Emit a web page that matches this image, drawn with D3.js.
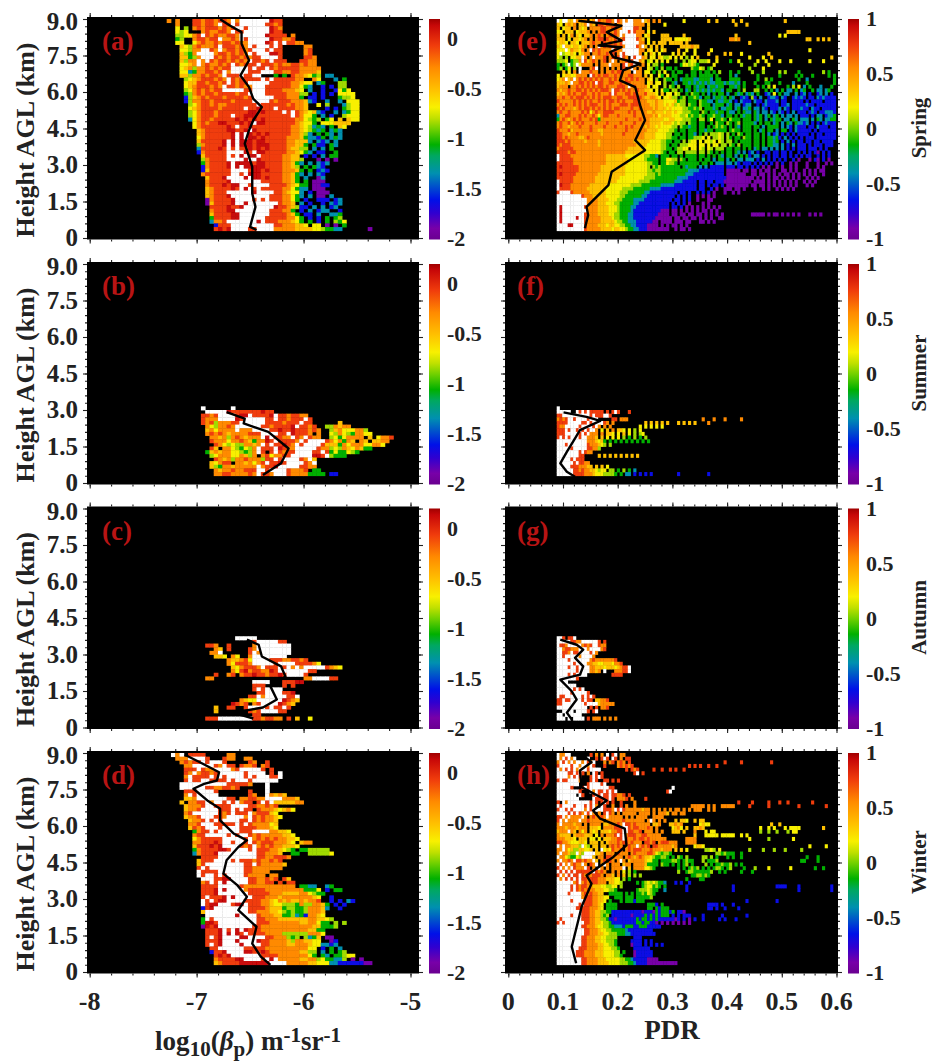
<!DOCTYPE html>
<html>
<head>
<meta charset="utf-8">
<script src="https://cdnjs.cloudflare.com/ajax/libs/d3/7.8.5/d3.min.js"></script>
<style>
  body { margin: 0; background: #fff; }
  text { font-family: "Liberation Serif", serif; font-weight: bold; fill: #222; }
</style>
</head>
<body>
<div id="chart"></div>
<script>
// every row string is one height bin, top row first
// . = no data (black), w = white bin, 0-9 = colour level (purple .. dark red)
// spaces only mark blocks of ten bins so the long rows can be counted
var levelFractions = [0.05, 0.17, 0.3, 0.43, 0.53, 0.6, 0.68, 0.78, 0.88, 0.97];

var rowsA = [
"7.7...887887887w7wwwwwww988",
"..7...887887w88w8wwwwww8878",
"..5.4.7878887878ww8wwwww987",
"..545...7877887w88wwwwww988",
"..445578w87877887wwwwww98888.7",
"..34..788788w7787w8wwwww988778",
"..55..5787787887877wwww98w8w8877",
"...654787778w888787w8www8w8.....77",
"...55477ww87w7887878www8w88.....78",
"...6437wwww78878787w8www998.....78",
"...66347www87878878788wwww8.....887",
"...6477w7w878878787w8878w888...8877",
"...5567w7877878w87888w8887877887877",
"...567477878788wwww8w88w878888877777",
"...5523778878w7wwww888www88778877776",
"...6647787887w888w88ww...3.3.8776534.22.",
"....4567888787w8788888w8w8888877..75...2.3",
"....5668878878w8788wwwww8888877655.23...44",
"....567888787w887877www88888877532..1.1.44.",
"....457878788wwwww88www888877765.2..1..1535",
"....347878878888788wwww8888877744.1.1.1.5555",
"....1467878887888878wwwww8887773.11.1...3445",
"....1477887888878888wwww87888777621..2..2.555",
".....4578878778888888w88888878776..5.4...2455",
".....5678888788888w889888w8888776....1.1.3455",
".....4578887888888899898888w8w8765621..2.2355",
".....4578887888w8899988888888w87553.2.1..4555",
".....2578878888898989898888888775434.35.6.655",
"......57878899888989w99888888876553.5556666",
"......5788888898w88988888888877654232.3.65",
".......678888899889w98888888877654323.232",
".......678888889w9w989898888877642.3.32.2",
".......578888889w9w998988888777632213.232",
".......6888889w9w99989988888776662.212.2",
".......4788889w9w9998999888877663.311.32",
".......2888898w8w8898989888876644.2.2.3",
".......1788888wwww98w9988888776532.11..3",
"........688888w8w9w99w888887766.1.1.2.33.",
"........478888wwww9ww98888877664...0.0.0.",
"........3788889w9999899888877632.2.212",
"........1788889w9w9999988887764.3.321..",
"........1688888wwww8998988877763.3.121.",
"........7888888ww8w9998888877632.2.21..",
".........68889wwww9w99898887763.2..02.",
".........788889wwwwwww888887763.3.000.",
".........78889899ww8wwww888876533.0011.",
".........67888898w9w8w88888775322.000..",
".........67888wwwwww9wwww8876552.1.000.",
".........678889wwwwwwwww88877532.2.00.2.",
".........0788889wwww8w8w8887753.1..111.12",
".........0688889ww9wwwwwww8776.2.1..1.212",
"..........88889889wwwwwww98876411.2.2.12.",
"..........788899wwwwwwww888773.1.2.122..1",
"..........6888899wwwwwww8888763.11.2..223",
"..........3888899wwwwww888887753.1.1.3.34",
"..........2778wwwwwww9w888777653.3.1.3.435",
"...........1888wwwwwwwwww88777665.55.0.0.3",
"...........8989wwww88wwww7777766665543322......0"
];

var rowsB = [
"........w......w",
".........wwwww98888888988",
"........8878wwww899w88889w8878877",
"........8777wwww98wwwww88w887888w8",
"........878477788wwwwww88887888w88......6",
".........7547787wwwwww88788889w8878..447677",
".........6757777w777wwww889889888787..467555774",
".........7878767777888wwww88w98887.7..5475437755",
"..........776747876777w9w8877w87w877..45357777.6.5778",
"..........877757787637798w88887w8wwww8757376.76.6677",
"...........87545447767w8w88987w8wwww866637577755775",
"..........86.77543547w888w9877wwwww8774547657633",
".........367677554347w8.8w8788wwww88w83533543",
"..........45777557647.7857788wwwww998w4333",
"...........87674778777488w8wwww87w6",
"..........65788.7767578w8898wwww87w",
"..........64377677777w7889wwwww8877",
"...........7677877888ww8wwww87778.33",
"...........7788777787w887www877773333.11"
];

var rowsC = [
"................wwwww",
"....................8wwwww88",
".........887..8.....7wwwwwwww",
"...........76.8....87wwwwwwww",
"..........77w......8w7wwwwwww",
"...........665.75..7wwwwwwww",
"..............766785wwww888778878",
"..............758887wwwww8wwww888875",
"...............6578887w888w8w7w7wwwww8765",
"...............75897887798wwwwwww88",
"...........8..78.78898878898wwww8",
".........77.....................77wwww88",
"....................wwww...88899",
"....................888....8.8",
"....................8w8wwww",
".....................88wwww889",
"...................88w7wwwww88w",
".................7655wwwwww9876",
"...............9878.78wwww9876",
"...........6..88..8wwww8w88w8",
"...........6.......878wwww88",
"....................88",
".........888wwwwwwww8878877.8.6..5"
];

var rowsD = [
".w7w.8888.....77",
"..777wwww8...877..77",
"...78788w8www8.....87..8",
"....77wwwww87w88.8778.78",
"....888w877wwww78wwwww8.8",
"....87w78878wwwwww8wwww.8.w",
"....7w8888w8w8wwww8w8www88w",
"....8w88ww8888w8www8wwwwww",
"...wwwwwwwwwww888887...w",
"...wwwwww88778878......w",
"....888wwww8.......8...w..",
"....7w8wwwww.......87..w7676",
"....667wwwwwww88.778877wwww7776",
"...6.7788w7ww8w8w788.8w8w6666677",
"....67778ww8888wwww8877878.......",
"....6778wwww888w8w88.877765675",
"....78wwwwww878w888w788865",
"....6778www887wwww7w8787765",
".....6778w8w8wwww88w878776",
".....778www88888w8w8777756",
".....6878www8wwww888877765",
"......3788w8wwwww888wwww77665",
"......788wwwww8w8ww87877777665",
"......5788888wwwww8w78787877665",
"......7788898ww8ww8w8788877765.677",
"......6888989wwww878w7878776665",
"......378888998wwww8w888776543.3344444",
"......278889wwwwwwwww887776..33..444445",
"........8888wwwwwwwww88778887",
".......6888wwww8w8887877878.",
".......68wwwwwwwww88w8777776",
".......8w8wwwwwwww887777777",
".......w8888wwwwww887777......",
".......w8ww8w8wwww87777.77",
"........www8899wwww8877878.86",
"........78w8w9wwwww887788.8.88",
"........8888wwwww8777777777777.3322..23",
"........8889w9wwww788887777777773335.1.33",
"........8889wwwwwww888887776666775433",
"........8w8889w9wwww8887776777777765..1.",
"........w8w899wwww888877657676676778..1.1.21",
"........w899www899w8887765544437447763.1.1",
"........189wwwwwwww8888766634433477762..1.",
"........6wwwwwwwwww887776654343347776",
".........wwwwwww9wwww8777663342317765",
"........3w8wwwwwwwwww887776666666776654",
"........3998wwwwwwwww88877777776677533.4.4",
"........0989wwwwwwww88777777777777663334",
".........8889w8w9w9888777777777776633",
".........8889w9w98w888877774444447775..",
".........8w89wwww99wwww88777434.4236.00..",
".........8889www9wwww988777764776655..01...",
".........8w89wwww9wwww887777667776552212.",
"..........88wwwwww88888777777777755.1.3.2",
"..........1889wwww99889877777776644.2.3.34.",
"...........8989wwwwwww8888777777753.32.33455",
"...........7888899wwww8w9w7777766774533224.0.0",
"...........6788889999999wwww77777665552211111100"
];

var rowsE = [
"w5ww66w767 7.67w87788 7w87w7ww77 7w67.7.7.. ......5... .....6..6. ....6..6.. .......... ...6......",
"65.6767.66 7w76.88788 7.77wwww77 77.6.....5 .......... .......... .....6...6",
"6.566.7.65 6.77778877 8877wwww88 7..6......",
"55.666.566 67.7.78877 787www8w87 77.5.6.... .......... .......... .......... .......... ....66666.",
"6.6.57.65. 667.787.78 887w7wwww7 7.56....66 6.....6... .......... .....6.... .......... .5.5......",
"666.5.6656 7.7.788.87 78w78wwww8 76.5....66 66.555556. .......... ...7767... .......... .......... .66..6.6.6",
"5665.665.6 667877.878 7878wwwwww 77.5.6.666 .66666.6.. .......... .......... 6.........",
"65w6656656 7.7.7w7878 88787wwww8 7w6.6.6.6. .....66667 66........",
"555w576657 .7w8787777 w877wwwwww 77.65.6.56 ....6..5.. 5.....5... .......... .......... .......... ..5.......",
"5w45565.56 77.7787787 8.7w8wwwww 7.5.65.5.. ..5.6.5... 5....6.... .6.6...5.. .......6..",
"54.4.5566w 7.7w7778.7 8.8w87.w8w w76.55.654 45.5.5.4.5 .6......6. .......... 5....5..6. .......... .......... 6",
"4445.3447w 86787.78.7 w7.778.8ww 76.45.5.5. 5..4..4.45 5.4445..5. ...3..5... ...5..5... .5...5.... ..5....5..",
"3.34w34w57 777.7.777w 777.8w78w7 .7.5.44.3. .....35545 43.....5.. .......4.. ..4....5..",
"34.35.4.w. ..78w.7.7. 7.7.8.7w7. 7..54.3.4. 33.3.....4 3354.34... .......... 4....5....",
"..6.5.7.w7 77877.7.77 8788777.w7 7.55.3.4.5 ..3.33...3 3.3.33.3.4 ...3..3... .4...4.... .4.4....3. .......4.3",
"5.56655777 7.w8787887 7878778877 7.6.5..53. 5.33...3.3 3.33333.3. ...3.2.... ...3...... .3.....3.3 ...3.....3 .3",
"567w67w787 8787878778 7877787878 77.65.4..4 33.3.23333 2233332.33 ...3333... ...3..4.3. ........3. .2........ .3",
"66676w7788 7878w88778 8778788777 77.56.55.4 ..32..3323 2323232233 3232232.3. ..3...33.. .3....2... .3........ .3",
"6777.77878 7878788787 778887w787 7775.55..4 .43.4..33. 3233.23323 3..3323.3. ...3.3.4.5 ....3.4.5. 2.3...2... 3",
"7677877887 8787878887 w887878778 77665.5.53 3.44.3.23. 3232323233 2.33..3.4. ..44..3.3. 2.3.22.3.2 3..3.22.23",
"6767878778 8778787778 w877788787 7786665.6. 55.54..3.4 33.3.2.3.3 3.2..323.2 32.3..12.5 .3.22..2.1 2.1..12.2. 1",
"7787787888 7878787888 7788778888 87667765.5 5644.34.33 432.33.233 23.32..121 .41.2..122 1.21..1212 1.11.21211 11",
"8777778787 8787787878 8787877788 7776667665 5556344.33 3.43322.32 2332.1.211 1.211.2111 2.11..1111 .1.1111.11 11",
"7878778787 8788877878 7778887888 7777667665 6564544.43 3.4333.233 3.23.22.12 2..1.12111 1.112.1111 1211.11111 11",
"8787776787 8878787878 7887777877 8777767666 5655554433 434.33323. 2233.23.22 3.22.21.11 12.21.1112 11.211.111 11",
"7877877778 7857877888 8777778787 7776676665 6656554443 33.43.3323 3.322.3.32 2.32.22.21 .21.1.2.11 1.121.1122 21",
"2778877787 8778757887 7787777787 7777767566 6655544534 3343.33433 2.33.3.323 3.323.23.2 3.2.22.2.1 11.1.22.12 23",
"3787678787 7787837777 7777787777 8777666665 5665554443 3.44.35.33 43.4333.33 3.323.2.32 33.22.32.2 22.2.32.22 33",
"7877867878 7777877787 7778777787 7777666656 6654544.43 3.33..3.43 3.43.34.33 332.3.33.2 3.2.32.322 12.1.1.121 11",
"7877677787 7787777877 7877787877 7767665655 5544.43323 3.33.3.343 43.3.32.33 3.33.2.333 3.2.21.211 1.11.2111. 11",
"8777867777 7787766777 7777787777 7776666555 5443.33.33 3.33233.33 33.3433.33 3.3.23.33. 2.33.1.211 111.1.1111 11",
"8877677877 7777776777 7777877777 7766665555 44.33.3.33 2.3.4.4445 4.4.3.43.3 3.33.3.2.1 2.1.1.1.11 11.1.11.11 11",
"8878777766 7877777777 7777777777 7766665555 4433.33.33 4445.5.445 4.43.33.43 3.33.3.332 31.2.1.1.1 .111.11111 11",
"8887877777 6777767777 7777777766 6666555544 33.33.4.45 5.5.5545.5 4.44.3.333 3.33.3.332 3.1.2.1.11 .11.11.111 1",
"8788877777 7777767777 7777777776 6665555544 3.33.44455 5.55.5.55. 44.43.4.33 3.33.3.332 2.2.1.2.11 1.1.111.11 1",
"7888887777 7777777777 7777776666 6655555544 33.34455.5 5.54.54.44 4.33.33.3. 3.23.22.2. 2.2.1.1.11 1.111.1.1.",
"8888788777 7777777777 7777766666 6655555543 .33.44.444 4.44.43.3. 3.33.32.2. 12.1..11.1 1.11.1..1. 1.1.10.1.1",
"w888877777 7777777766 6666655555 5544332.33 3.33.3.333 3.33.3.3.3 2.33.2.3.3 1.22.1.1.1 1.11.1.1.1 .11..1.1.1",
"w888887777 7777777766 6666665555 5543333.33 5544.43.33 3.3.33.2.3 3.2.3.22.2 22.1.2.1.1 .1.1..1.0. ..0.10.1.0",
"8888887777 7777777766 6666665555 5554433.33 5443.33333 33.33.3.22 2.22.21.11 1.1.1.1.1. 0.1..0.0.. .0...0..0. 0",
"8988888877 7777776666 6666655555 5554.43433 33333.3233 3.2.2.1111 1.111.11.1 .1.1.0.0.. 0.0..0.0.. .0...0.0..",
"8888888877 7777776666 6666655555 5554434433 3333333322 2211111111 1.00000.00 .00.0.00.0 ..00.0.0.. 0.0.0.00..",
"8988888777 7777766666 6666655555 5554443433 3333333222 1111111111 1.0000000. .00.00.0.0 .0.00.0.0. 0.0.0..0..",
"8888887777 7777666666 6665555555 5544443333 3333222211 1111111111 1100000000 00.0.0.0.0 0.0.0.0.0. .0.0.0..",
"w888887777 7777666666 6655555555 4444333333 3332221111 1.11.11.11 1000000000 0.0000.0.0 .0.0.0.0.. 0.0.0",
"w988877777 7766666665 5555555444 4333333322 2221111111 1.11.1.11. 1.00000000 .00.00.0.0 .0.0.0.0.. .0.0",
"w888877777 7666666655 5555444433 3333222211 1111111111 1.11..1.0. .000.00.0. ..0..0.0.. 0.0.0.0",
"8wwww87777 7766666655 5554443333 3322111111 1111.11.1. .1.1.1.0.. .0..0.0...",
"wwwwwwwww8 7776666655 5554433333 3221111111 111.1.1.1. .0.0.0.0..",
"wwwwwwwwww w777766665 5544333322 2211111111 11.11.1.1. .0...00...",
"wwwwwwwwww w777766655 5443333322 1111111111 1.1.1.1.0. ...0.0....",
"w9wwwwwwww 8777766665 5543333221 1111111111 1.11.1.0.0 .0.0.0.0.0",
"w9wwwwwwww w777766665 5543333211 1111111100 0.00.0.0.0 .0.00.0.0.",
"w9wwwwwwww 8777766665 5443332211 1111111000 0.00.00.00 .00.0.0.0. 0......... .00000.0.0 0.0.0.0.0. ..0.0.0",
"w9wwwww9ww 8777776666 5443332211 1111110000 00.00.00.0 0.0.0.0..0 0.........",
"w9wwwwwwww 8777776666 6544332221 1111100.00 00.000.00. ..00.0.0..",
"wwww99wwww 8777766656 6554433221 1110000.0. 0.00.0.0..",
"wwwwwwwwww 8777776666 5665543322 1110000000 0..0.00.0"
];

var rowsF = [
"w",
"wwwww..w8w8w88888.8.8w8...8",
"88wwwwwwwwww8w888ww8",
"7878ww8wwww8www.....88.777...........................7...7...7.....7",
"8888wwwww88w8wwww87.7...........6.6.6.6.6...6.6.6.6....7",
"877wwwww8wwww8w7.7.7..........5.5.5.5.5",
"888w8ww8w8w8ww7.5.6.7.665.5.4.5",
"888wwwww8w8w777.7.665.5.6.5.4.45",
"8w8w8www8ww7776.6.5.5.5.4.3.4.3.4",
"wwwwwwwwwww7776563.3.3.3.3.3.3.3.3",
"www8wwwwwww8777654.4",
"wwwww8wwwww88774",
"wwwwwwww8w877.",
"wwwwwwww88.....6.6.6.6.6.6.6.6",
"wwwww8w888",
"wwwwww8w8877",
"wwwww88877766.6.6.5",
"wwwwww887877665455.44.3.4.3.2",
"wwwwww8888777655544443.3.22.1.1.1.1.........1..........1"
];

var rowsG = [
"ww8.88w",
"wwwww8877wwwwww8.8",
"w887wwwww7878ww877",
"ww788777www7wwww78",
"ww887w88wwww8w7",
"ww8wwwww7wwww7",
"wwww8wwwwwww7877777778",
"wwwwww8wwww7766556665778",
"wwww8ww8wwww77666566656788w",
"wwwwwww8wwww7767.w...77788w",
"wwww8w8wwww.........8888",
"wwwwwww8",
"wwww",
"wwwwwww",
"wwwwww8w8w",
"wwwww8wwwww8",
"w88wwwwww8w8w8",
"88w88wwww8w88.66778",
"88wwwwwwww8wwww677777",
"wwwwwwwwwww.8.8.778",
"..wwww.wwww8.8w",
"ww.wwwwww...",
"www.w.wwww.8.777.7.7.7"
];

var rowsH = [
"w77ww..... ..8.7.7.w. 8w.77.....",
"w7w8w7w... .w..8.8w8. w8.7.88...",
"7w8w7w7ww7 w87w...7.7 8.787.8... .......... .......... .......... .8.....8.. ........8.",
"8wwww8ww7w w7w8...8.. ..787878.. .......... ........8. 8.8..8..8.",
"w7w8w8w7ww w8wwww.... .....8.878 .....8..8. .8.8..8...",
"wwww88w8w8 .7.w8.8... ........8w .8........",
"wwww7w8w8. ..8w8w8...",
"8w88wwww7. ..8w8..88. 8.8.......",
"wwwwwwww.. .8wwww8w..",
"wwwww8...8 w8wwwwwww8 8......... .......... ..w.......",
"wwwwwwww8. ..w7w88w8w 8w........ .......... 8w........",
"wwwwwww.w8 ...8w8w88w 88778.8...",
"wwwwwwww.. ...w88888w 8.7778.7.. ..8.......",
"8.w7wwwwww ww8w8.8w8. 8..8....7. .......... .......... .......... ......8... .8.....8.. .8..8..... ...8......",
"w8wwww8www 8w8w7.w8.. 7..8.7..7. .......... .........7 7777.7.7.. 77777..... 8......8.. ........8. ........8.",
"8ww8w8wwww 7w8wwww888 7w8w877777 7677.7.7.7 .7.77.7.7. 777..7.7..",
"wwww8w8w87 w8w7.7.8w8 7.7.77777. 7777.7.777 6.77.77...",
"88w7w7777w 7.787787w7 7777.7.7.7 777..7777.",
"8w7w7777w7 7877777.77 7777877777 77.7w7.7.7 ...6.665.. 6.66......",
"7w7777677. 7.7777.667 7787w88787 7777.667.. .66767.... ..5655.... .......... ........6. .6........",
"7776777677 7.6665.777 7888ww8788 77787.7... ..5675.6.. 6676...... .......... ....5..5.5 ...5.5555. .......6..",
"6777w76.75 7.656.6665 7788ww8877 8.777.7.7. ..666.6... 7...5.55.. .......... ....4..4.. 4...4.55..",
"76666.6777 666.5.7.77 78w8w78887 78877777.. .......... 6...55555. 55555..5.5",
"7776665.66 6.55.5.666 7788w87787 8878777777 .......777 7......... .......... 5......4.. ......5...",
"8877655566 5.666.6.67 7787887877 7.8878.788 8777...777 7.........",
"w7w776664w 54.66.66.7 8787.7877w 7878.88777 7767...... 5665...... .......... .......... .......... ..5.....5.",
"77w7564466 556.6.w565 8778.78788 8777877767 77.6.6.5.. ....4454.5 .......... 4....4...4 ...4.....4",
"7w77644w64 wwww667.77 7.8777.787 7778875434 43........ ........44 34333..3..",
"w77543354w www6.77.88 7777.78767 8766543344 3.3.43.4.. ...44.4.3. ..3.3..3.. .......... .......... .3...3....",
"7w7787w887 877w6.78.8 7.7w7.6777 7765533.33 33443.3433 ...4.3334. .......... .......... .........3 3....3....",
"w8w7w7877w 7.87w.7w7. 777.677.77 7763333.43 3.3.3.34.3 ....4.3.33 4334.3.3..",
"8w7w7w8777 w8.7.w7.7. 7777w.6.77 775543.... ....3.3.34 34.3.3.344 3.34....3. ..4....5.. .....5.... ....3..3..",
"w8w8w8w888 888w8787.. 7.7.5.4.3. .......... ....4..344 3333334..3 .3.....3.. .3........",
"8w7w8w88w8 7878887.77 6.7.6.4.4. 4......... .........3 344343....",
"w7w8w8w8w8 8788877766 655.4.3... .......... .......3.. ..33......",
"wwwwww78w7 87888777.6 6554.....3 .345454332 ...1.1..1.",
"wwwww8w878 8776665544 55.4...... .3455343.3 .......1.. .......... ....1..... .......... 1111....1. .......... 1",
"wwwww8w878 7877666554 43.......3 4445433..2 .......1.. .......... ....1..... .......... ........1. .......... 1",
"wwww8wwww7 8787766..3 3333.3.3.3 343543....",
"wwwwwwwww7 888776655. .333.333.3 33334.....",
"wwwww8wwww 88877665.3 ...3.33313 33........ .......... .......... .........1 .......... 1.........",
"wwwwwwww8w 8887765.33 33........ ...3331.3. .......... .....1111. 1...1.....",
"wwwwwww888 8877765.33 33........ ...33.3133 3......... .....11.1. .1....1...",
"wwwwwwwww8 8877664433 1111111111 1011103133 313.110...",
"wwwww8www8 887766434. 1111111011 1131313133 3.1.1.111. ...1...... 1........1",
"w8wwwwwww8 8877664431 1011111113 1331313111 11101.1.0. 1..1.....1 .1...1....",
"8w8wwwwwww 8877665443 1111111113 3133110.0. 0.0.0.0.0.",
"wwwwwwwww8 8777655443 3222133311 33311111..",
"wwwwwwwwww 8877765544 3333321111 11111.....",
"wwwwwwwwww 8877766554 4433322111 111111....",
"wwwwwwwww8 8777665544 44......11 1.........",
"wwwwwwwww8 8777665544 43.....111 1.1.1.....",
"wwwwwwwww8 8777766554 43.....011 1.1.1.1.1.",
"wwwwwwww88 8777766555 443.....11 1111......",
"wwwwwww888 7777666555 544.3...01 11111.....",
"wwwwwww888 7777666555 5443....01 11111.....",
"wwwwwwwww8 8777766655 5554433211 1110000...",
"wwwwwwwww8 8777766665 5554443321 1110000000 0000"
];

// mean profiles: x value at each height
var meanAx = [-6.78,-6.69,-6.58,-6.58,-6.51,-6.59,-6.51,-6.47,-6.39,-6.47,-6.51,-6.55,-6.48,-6.48,-6.45,-6.50,-6.44];
var meanAh = [8.99,8.73,8.46,7.98,7.30,6.68,6.20,5.72,5.38,4.84,4.43,3.88,2.92,1.83,1.28,0.46,0.33];
var meanBx = [-6.72,-6.55,-6.56,-6.33,-6.14,-6.21,-6.38];
var meanBh = [2.91,2.65,2.45,2.10,1.42,0.81,0.33];
var meanCx = [-6.53,-6.42,-6.39,-6.21,-6.17,-6.31,-6.25,-6.38,-6.66,-6.47];
var meanCh = [3.61,3.40,2.92,2.51,2.10,1.69,1.15,0.82,0.61,0.37];
var meanDx = [-7.11,-6.97,-6.79,-6.81,-6.93,-7.03,-6.90,-6.78,-6.78,-6.65,-6.53,-6.61,-6.72,-6.75,-6.62,-6.53,-6.61,-6.44,-6.48,-6.40,-6.31];
var meanDh = [8.93,8.62,8.21,7.87,7.73,7.53,7.05,6.71,6.23,5.68,5.41,5.14,4.59,4.04,3.57,3.09,2.54,1.86,1.17,0.63,0.29];
var meanEx = [.128,.207,.180,.207,.165,.207,.186,.192,.241,.210,.204,.232,.241,.250,.232,.250,.189,.183,.143,.146,.140];
var meanEh = [8.93,8.73,8.46,8.11,7.91,7.84,7.64,7.43,7.16,6.89,6.48,6.20,5.45,4.84,4.02,3.61,2.72,2.17,1.28,.94,.40];
var meanFx = [.101,.143,.168,.131,.122,.107,.095,.107,.122];
var meanFh = [2.90,2.72,2.55,2.17,1.83,1.28,.81,.46,.26];
var meanGx = [.095,.125,.137,.122,.137,.131,.095,.116,.125,.107,.116];
var meanGh = [3.61,3.40,3.20,2.86,2.51,2.17,1.97,1.49,1.15,.61,.33];
var meanHx = [.137,.152,.131,.134,.180,.155,.168,.213,.216,.192,.143,.152,.134,.128,.116,.124];
var meanHh = [8.89,8.62,8.28,7.60,7.05,6.64,6.30,5.89,5.20,4.73,3.97,3.63,2.68,2.13,1.04,.36];

var heightTicks = [0, 1.5, 3, 4.5, 6, 7.5, 9];
var heightLabels = ["0", "1.5", "3.0", "4.5", "6.0", "7.5", "9.0"];
var betaTicks = [-8, -7, -6, -5];
var pdrTicks = [0, 0.1, 0.2, 0.3, 0.4, 0.5, 0.6];
var betaBarTicks = [0, -0.5, -1, -1.5, -2];
var pdrBarTicks = [1, 0.5, 0, -0.5, -1];
var seasons = ["Spring", "Summer", "Autumn", "Winter"];

var colorFractions = [0, .05, .12, .18, .3, .38, .43, .5, .55, .6, .68, .78, .88, .97, 1];
var colorStops = ["#6a0090","#7800a8","#3000d0","#0010e8","#0090b0","#00a860","#00b000","#70d000","#c0e000","#f8f000","#ffc000","#ff8a00","#f03c0c","#c80808","#a00000"];

var svg = d3.select("#chart").append("svg")
  .attr("width", 935)
  .attr("height", 1063);

var defs = svg.append("defs");
defs.append("filter").attr("id", "soft")
  .append("feGaussianBlur").attr("stdDeviation", 0.55);

var grad = defs.append("linearGradient").attr("id", "rainbow")
  .attr("x1", 0).attr("y1", 1).attr("x2", 0).attr("y2", 0);
colorFractions.forEach(function(f, i) {
  grad.append("stop").attr("offset", f).attr("stop-color", colorStops[i]);
});

var panelTop = [17, 262, 506.5, 751];
var panelHeight = 222.5;
var rowStep = 0.15;

var leftSide = {
  frame: [87, 419],
  x: d3.scaleLinear().domain([-8, -5]).range([89.7, 410.5]),
  binStart: -7.28, binWidth: 0.04,
  ticks: betaTicks, minorStep: 0.2,
  bar: [429, 440], barDomain: [-2, 0.2], barTicks: betaBarTicks,
  names: ["(a)", "(b)", "(c)", "(d)"], labelX: 102
};
var rightSide = {
  frame: [505, 838],
  x: d3.scaleLinear().domain([0, 0.6]).range([508.3, 836.5]),
  binStart: 0.0885, binWidth: 0.005,
  ticks: pdrTicks, minorStep: 0.02,
  bar: [848, 859], barDomain: [-1, 1], barTicks: pdrBarTicks,
  names: ["(e)", "(f)", "(g)", "(h)"], labelX: 517
};

function drawPanel(side, index, rows, firstRow, meanX, meanH) {
  var top = panelTop[index];
  var bottom = top + panelHeight;
  var y = d3.scaleLinear().domain([0, 9]).range([bottom - 1.5, top + 2]);
  var x = side.x;
  var g = svg.append("g");

  var span = side.barDomain[1] - side.barDomain[0];
  var color = d3.scaleLinear()
    .domain(colorFractions.map(function(f) { return side.barDomain[0] + f * span; }))
    .range(colorStops);

  g.append("rect")
    .attr("x", side.frame[0]).attr("y", top)
    .attr("width", side.frame[1] - side.frame[0]).attr("height", panelHeight)
    .attr("fill", "#000");

  // flatten the strings to one cell per bin
  var cells = [];
  rows.forEach(function(raw, r) {
    var row = raw.replace(/ /g, "");
    for (var c = 0; c < row.length; c++) {
      var ch = row[c];
      if (ch == ".") continue;
      cells.push({
        c: c, r: r + firstRow,
        value: ch == "w" ? null : side.barDomain[0] + levelFractions[+ch] * span
      });
    }
  });

  var cw = x(side.binWidth) - x(0);
  var chh = y(0) - y(rowStep);
  g.append("g").attr("filter", "url(#soft)").selectAll("rect")
    .data(cells).enter().append("rect")
    .attr("x", function(d) { return x(side.binStart + d.c * side.binWidth); })
    .attr("y", function(d) { return y(9 - d.r * rowStep); })
    .attr("width", cw + 0.4)
    .attr("height", chh + 0.4)
    .attr("fill", function(d) { return d.value === null ? "#fff" : color(d.value); });

  var line = d3.line()
    .x(function(d) { return x(d[0]); })
    .y(function(d) { return y(d[1]); });
  g.append("path")
    .attr("d", line(d3.zip(meanX, meanH)))
    .attr("fill", "none")
    .attr("stroke", "#000")
    .attr("stroke-linejoin", "round")
    .attr("stroke-width", 2.4);

  //ticks on all four sides, they stick out of the black frame
  var minorX = d3.range(side.x.domain()[0], side.x.domain()[1] + 1e-6, side.minorStep);
  var minorY = d3.range(0, 9.001, 0.3);
  function ticksOn(axis, transform, values, size) {
    var a = g.append("g").attr("transform", transform)
      .call(axis.tickValues(values).tickSize(size).tickFormat(""));
    a.select(".domain").remove();
    a.selectAll("line").attr("stroke", "#222").attr("stroke-width", 1.1);
  }
  ticksOn(d3.axisBottom(x), "translate(0," + bottom + ")", minorX, 2);
  ticksOn(d3.axisBottom(x), "translate(0," + bottom + ")", side.ticks, 4);
  ticksOn(d3.axisTop(x), "translate(0," + top + ")", minorX, 2);
  ticksOn(d3.axisTop(x), "translate(0," + top + ")", side.ticks, 4);
  ticksOn(d3.axisLeft(y), "translate(" + side.frame[0] + ",0)", minorY, 2);
  ticksOn(d3.axisLeft(y), "translate(" + side.frame[0] + ",0)", heightTicks, 4);
  ticksOn(d3.axisRight(y), "translate(" + side.frame[1] + ",0)", minorY, 2);
  ticksOn(d3.axisRight(y), "translate(" + side.frame[1] + ",0)", heightTicks, 4);

  // panel letter
  g.append("text")
    .attr("x", side.labelX).attr("y", top + 33)
    .style("font-size", "27px")
    .style("fill", "#b81414")
    .text(side.names[index]);

  // colour bar
  g.append("rect")
    .attr("x", side.bar[0]).attr("y", top + 2)
    .attr("width", side.bar[1] - side.bar[0]).attr("height", panelHeight - 2)
    .attr("fill", "url(#rainbow)");
  var barScale = d3.scaleLinear().domain(side.barDomain).range([top + panelHeight - 0.5, top + 2]);
  g.selectAll(".barlabel").data(side.barTicks).enter().append("text")
    .attr("class", "barlabel")
    .attr("x", side.bar[1] + 7)
    .attr("y", function(d) { return barScale(d) + 7; })
    .style("font-size", "22px")
    .text(function(d) { return d; });
}

drawPanel(leftSide, 0, rowsA, 0, meanAx, meanAh);
drawPanel(leftSide, 1, rowsB, 39, meanBx, meanBh);
drawPanel(leftSide, 2, rowsC, 35, meanCx, meanCh);
drawPanel(leftSide, 3, rowsD, 0, meanDx, meanDh);
drawPanel(rightSide, 0, rowsE, 0, meanEx, meanEh);
drawPanel(rightSide, 1, rowsF, 39, meanFx, meanFh);
drawPanel(rightSide, 2, rowsG, 35, meanGx, meanGh);
drawPanel(rightSide, 3, rowsH, 0, meanHx, meanHh);

// height labels down the left column
panelTop.forEach(function(top, i) {
  var y = d3.scaleLinear().domain([0, 9]).range([top + panelHeight - 1.5, top + 2]);
  svg.selectAll(".hlabel" + i).data(heightTicks).enter().append("text")
    .attr("class", "hlabel" + i)
    .attr("x", 78)
    // the top label sits a little under its tick, as in the figure
    .attr("y", function(d) { return y(d) + (d == 9 ? 11 : 8); })
    .attr("text-anchor", "end")
    .style("font-size", "25px")
    .text(function(d, j) { return heightLabels[j]; });
  svg.append("text")
    .attr("transform", "translate(34," + (top + 123) + ") rotate(-90)")
    .attr("text-anchor", "middle")
    .style("font-size", "26px")
    .text("Height AGL (km)");
  svg.append("text")
    .attr("transform", "translate(926," + (top + 111) + ") rotate(-90)")
    .attr("text-anchor", "middle")
    .style("font-size", "21px")
    .text(seasons[i]);
});

// x tick labels, bottom row only
var bottomY = panelTop[3] + panelHeight + 36;
svg.selectAll(".betalabel").data(betaTicks).enter().append("text")
  .attr("class", "betalabel")
  .attr("x", function(d) { return leftSide.x(d); })
  .attr("y", bottomY)
  .attr("text-anchor", "middle")
  .style("font-size", "26px")
  .text(function(d) { return d; });
svg.selectAll(".pdrlabel").data(pdrTicks).enter().append("text")
  .attr("class", "pdrlabel")
  .attr("x", function(d) { return rightSide.x(d); })
  .attr("y", bottomY)
  .attr("text-anchor", "middle")
  .style("font-size", "26px")
  .text(function(d) { return d; });

var betaTitle = svg.append("text")
  .attr("x", 248).attr("y", 1050)
  .attr("text-anchor", "middle")
  .style("font-size", "27px");
betaTitle.append("tspan").text("log");
betaTitle.append("tspan").attr("dy", 6).style("font-size", "21px").text("10");
betaTitle.append("tspan").attr("dy", -6).text("(");
betaTitle.append("tspan").style("font-style", "italic").text("β");
betaTitle.append("tspan").attr("dy", 6).style("font-size", "21px").text("p");
betaTitle.append("tspan").attr("dy", -6).text(") m");
betaTitle.append("tspan").attr("dy", -8).style("font-size", "21px").text("-1");
betaTitle.append("tspan").attr("dy", 8).text("sr");
betaTitle.append("tspan").attr("dy", -8).style("font-size", "21px").text("-1");

svg.append("text")
  .attr("x", 672).attr("y", 1039)
  .attr("text-anchor", "middle")
  .style("font-size", "27px")
  .text("PDR");
</script>
</body>
</html>
